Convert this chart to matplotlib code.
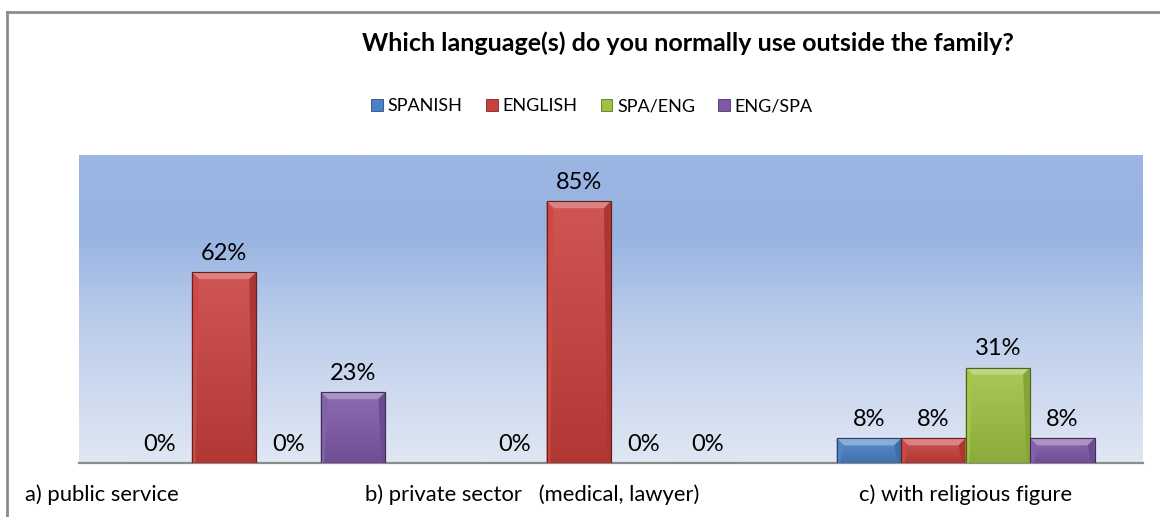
import numpy as np
import matplotlib
matplotlib.use("Agg")
from matplotlib import pyplot as plt
from matplotlib.colors import LinearSegmentedColormap, to_rgb
from matplotlib.patches import Polygon, Patch
from matplotlib.lines import Line2D

plt.rcParams['font.family'] = ['Lato', 'DejaVu Sans']

title = "Which language(s) do you normally use outside the family?"
categories = ["a) public service", "b) private sector   (medical, lawyer)", "c) with religious figure"]
series = ["SPANISH", "ENGLISH", "SPA/ENG", "ENG/SPA"]
spanish = [0, 0, 8]
english = [62, 85, 8]
spa_eng = [0, 0, 31]
eng_spa = [23, 0, 8]
values = [spanish, english, spa_eng, eng_spa]

colors = ["#4a80c4", "#c93f3b", "#9dc242", "#7e59a8"]

W, H = 1160, 517
fig = plt.figure(figsize=(W / 100, H / 100), dpi=100)
fig.patch.set_facecolor("white")

# plot area in pixels
L, R, T, B = 79, 1143, 155, 463
ax = fig.add_axes([L / W, 1 - B / H, (R - L) / W, (B - T) / H])

def lighten(c, f):
    r = np.array(to_rgb(c))
    return tuple(r + (1 - r) * f)

def darken(c, f):
    return tuple(np.array(to_rgb(c)) * (1 - f))

# background gradient, top to bottom
bg = LinearSegmentedColormap.from_list(
    "bg", [(0.0, "#9cb6e3"), (0.25, "#96b3e1"), (0.55, "#bccdeb"), (1.0, "#e0e7f4")])
grad = np.linspace(0, 1, 256).reshape(-1, 1)
ax.imshow(grad, cmap=bg, aspect="auto", extent=[-0.5, 2.5, 0, 100], zorder=0)

n = len(series)
group = 1.0 / (n + 1.5)
x = np.arange(len(categories))
px_x = 3.0 / (R - L)      # data units per pixel
px_y = 100.0 / (B - T)
bev = 7

for i, (vals, c) in enumerate(zip(values, colors)):
    pos = x + (i - (n - 1) / 2) * group
    bars = ax.bar(pos, vals, width=group, color=c, edgecolor=darken(c, 0.5),
                  linewidth=0.8, zorder=3)
    cmap = LinearSegmentedColormap.from_list("b", [lighten(c, 0.12), darken(c, 0.12)])
    for b, v in zip(bars, vals):
        x0, w, h = b.get_x(), b.get_width(), b.get_height()
        if h > 0:
            im = ax.imshow(grad, cmap=cmap, aspect="auto",
                           extent=[x0, x0 + w, 0, h], zorder=3.1)
            im.set_clip_path(b)
            bx, by = bev * px_x, min(bev * px_y, h / 2)
            top = Polygon([(x0, h), (x0 + w, h), (x0 + w - bx, h - by), (x0 + bx, h - by)],
                          closed=True, facecolor=lighten(c, 0.35), edgecolor="none", zorder=3.2)
            right = Polygon([(x0 + w, h), (x0 + w, 0), (x0 + w - bx * 0.5, 0), (x0 + w - bx, h - by)],
                            closed=True, facecolor=darken(c, 0.15), edgecolor="none", zorder=3.2)
            left = Polygon([(x0, h), (x0, 0), (x0 + bx * 0.5, 0), (x0 + bx, h - by)],
                           closed=True, facecolor=lighten(c, 0.05), edgecolor="none", zorder=3.2)
            for p in (top, right, left):
                ax.add_patch(p)
            ax.add_patch(plt.Rectangle((x0, 0), w, h, facecolor="none",
                                       edgecolor=darken(c, 0.5), linewidth=0.8, zorder=3.3))
        ax.annotate(f"{v}%", (x0 + w / 2, h), xytext=(0, 6), textcoords="offset points",
                    ha="center", va="bottom", fontsize=17, color="black", zorder=5)

ax.set_xlim(-0.5, 2.5)
ax.set_ylim(0, 100)
ax.set_xticks([])
ax.set_yticks([])
for s in ["top", "left", "right"]:
    ax.spines[s].set_visible(False)
ax.spines["bottom"].set_color("#8c8c8c")
ax.spines["bottom"].set_linewidth(1.6)

# category labels under the axis
label_pos = [(-0.051, "left"), (0.269, "left"), (2.0 / 3 + 1 / 6, "center")]
for (xp, ha), lab in zip(label_pos, categories):
    ax.text(xp, -0.104, lab, transform=ax.transAxes, ha=ha, va="center",
            fontsize=15.8, color="black")

fig.text(688 / W, 1 - 43 / H, title, ha="center", va="center",
         fontsize=18, fontweight="bold")

handles = [Patch(facecolor=c, edgecolor=darken(c, 0.4), linewidth=0.6) for c in colors]
fig.legend(handles, series, loc="center", bbox_to_anchor=(592 / W, 1 - 106 / H),
           ncol=4, frameon=False, fontsize=13, handlelength=0.65, handleheight=0.65,
           handletextpad=0.25, columnspacing=1.3)

# chart border
fig.add_artist(Line2D([7 / W, 7 / W], [0, 1 - 12 / H], color="#8c8c8c", linewidth=2,
                      transform=fig.transFigure))
fig.add_artist(Line2D([7 / W, 1], [1 - 12 / H, 1 - 12 / H], color="#8c8c8c", linewidth=2,
                      transform=fig.transFigure))

fig.savefig("out.png", dpi=100)
